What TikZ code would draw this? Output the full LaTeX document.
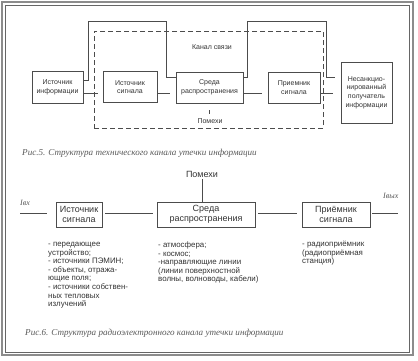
\documentclass[tikz,border=0pt]{standalone}
\usepackage{fontspec}
\setmainfont{Liberation Sans}
\newfontfamily\capfont{Liberation Serif}
\begin{document}
\begin{tikzpicture}[x=1pt,y=-1pt,
  every node/.style={text=black!80},
  boxa/.style={draw=black!70, line width=0.7pt, font=\fontsize{7}{8.7}\selectfont, align=center, inner sep=0pt},
  boxb/.style={draw=black!70, line width=0.7pt, font=\fontsize{9}{10.5}\selectfont, align=center, inner sep=0pt, minimum height=25},
  lbla/.style={font=\fontsize{7}{8.7}\selectfont, inner sep=0pt},
  lblb/.style={font=\fontsize{9}{10.5}\selectfont, inner sep=0pt},
  listtxt/.style={font=\fontsize{7.9}{8.6}\selectfont, align=left, anchor=north west, inner sep=0pt},
  captxt/.style={font=\capfont\itshape\fontsize{9.1}{10}\selectfont, text=black!65, anchor=west, inner sep=0pt},
  conn/.style={draw=black!70, line width=0.7pt},
  frameo/.style={draw=black!45, line width=1.2pt},
  framei/.style={draw=black!60, line width=0.8pt},
  chanframe/.style={draw=black!70, line width=0.7pt, dash pattern=on 5pt off 3pt}
]
\useasboundingbox (0,0) rectangle (418,360);
% outer frame
\draw[frameo] (2,2) rectangle (413,355);
\draw[framei] (5,5) rectangle (409,352);

% ---------- Fig. 5 ----------
\node[chanframe, minimum width=229, minimum height=97] (chan) at (208.5,79.5) {};
\node[lbla] (kanal) at (212,47) {Канал связи};
\node[boxa, minimum width=51, minimum height=32] (ii) at (57.5,87) {Источник\\информации};
\node[boxa, minimum width=54, minimum height=31] (is) at (130,87) {Источник\\сигнала};
\node[boxa, minimum width=67, minimum height=31] (sr) at (209.5,87.5) {Среда\\распространения};
\node[boxa, minimum width=52, minimum height=31] (pr) at (294,87.5) {Приемник\\сигнала};
\node[boxa, minimum width=51, minimum height=61] (ns) at (366.5,92.5) {Несанкцио-\\нированный\\получатель\\информации};
\node[lbla] (pom1) at (210,121) {Помехи};
\coordinate (tick) at (209.5,110);
\draw[conn, line width=0.5pt] (tick) -- ++(0,4);

\draw[conn] (ii.east |- 0,80) -| (88,21) -| (166,77) -- (sr.west |- 0,77);
\draw[conn, shorten >=6pt] (sr.east |- 0,77) -| (247,21) -| (326,77) -- (ns.west |- 0,77);
\draw[conn, shorten >=5pt] (ii.east |- 0,93) -- (is.west |- 0,93);
\draw[conn, shorten >=6pt] (is.east |- 0,93) -- (sr.west |- 0,93);
\draw[conn, shorten >=6pt] (sr.east |- 0,93) -- (pr.west |- 0,93);
\draw[conn, shorten >=8pt] (pr.east |- 0,93) -- (ns.west |- 0,93);

\node[captxt] (cap5) at (22,153) {Рис.5. Структура технического канала утечки информации};

% ---------- Fig. 6 ----------
\node[lblb] (pom2) at (202,174) {Помехи};
\node[boxb, minimum width=46] (is2) at (79,214.5) {Источник\\сигнала};
\node[boxb, minimum width=98] (sr2) at (206,214.5) {Среда\\распространения};
\node[boxb, minimum width=68] (pr2) at (336,214.5) {Приёмник\\сигнала};
\coordinate (in0) at (20,213);
\coordinate (out0) at (398,213);
\node[captxt, font=\capfont\itshape\fontsize{8}{9}\selectfont] (iin) at (20,203) {Iвх};
\node[captxt, font=\capfont\itshape\fontsize{8}{9}\selectfont] (iout) at (383,196) {Iвых};

\draw[conn] (pom2.south) ++(0,2) -- (pom2.south |- sr2.north);
\draw[conn, shorten >=9pt] (in0) -- (is2.west |- in0);
\draw[conn, shorten <=3pt, shorten >=4pt] (is2.east |- in0) -- (sr2.west |- in0);
\draw[conn, shorten <=3pt, shorten >=5pt] (sr2.east |- in0) -- (pr2.west |- in0);
\draw[conn, shorten <=2pt] (pr2.east |- in0) -- (out0);

\node[listtxt] (l1) at (48,242) {- передающее\\устройство;\\- источники ПЭМИН;\\- объекты, отража-\\ющие поля;\\- источники собствен-\\ных тепловых\\излучений};
\node[listtxt] (l2) at (158,241.5) {- атмосфера;\\- космос;\\-направляющие линии\\(линии поверхностной\\волны, волноводы, кабели)};
\node[listtxt] (l3) at (302,241) {- радиоприёмник\\(радиоприёмная\\станция)};

\node[captxt] (cap6) at (25,333) {Рис.6. Структура радиоэлектронного канала утечки информации};
\end{tikzpicture}
\end{document}
